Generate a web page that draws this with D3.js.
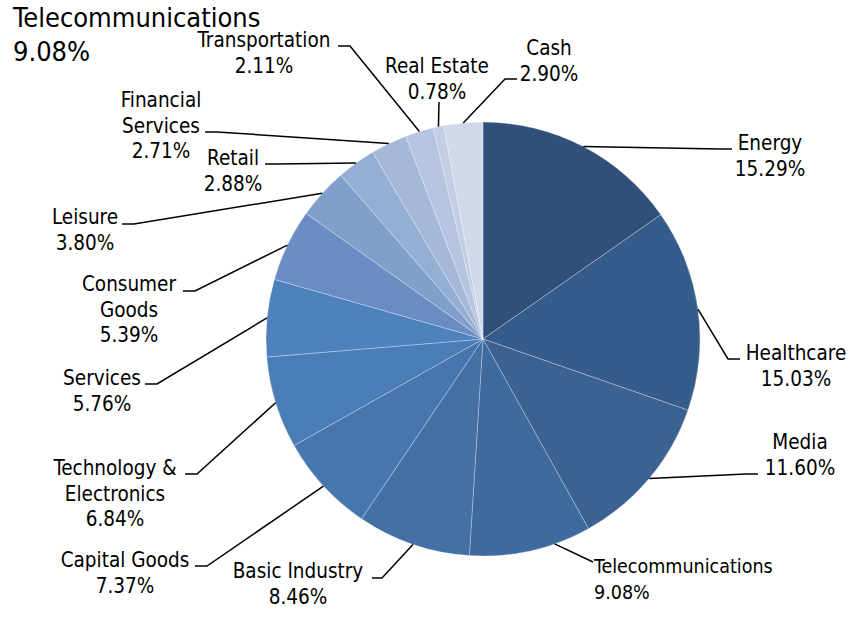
<!DOCTYPE html>
<html><head><meta charset="utf-8">
<script src="https://cdn.jsdelivr.net/npm/d3@7"></script>
<style>
html,body{margin:0;padding:0;background:#fff;}
text{font-family:"DejaVu Sans Condensed","DejaVu Sans",sans-serif;font-stretch:condensed;fill:#000;}
</style></head>
<body>
<svg id="chart" width="856" height="641"></svg>
<script>
// ---- data ----
const categories = ["Energy","Healthcare","Media","Telecommunications","Basic Industry","Capital Goods",
  "Technology & Electronics","Services","Consumer Goods","Leisure","Retail","Financial Services",
  "Transportation","Real Estate","Cash"];
const values = [15.29,15.03,11.60,9.08,8.46,7.37,6.84,5.76,5.39,3.80,2.88,2.71,2.11,0.78,2.90];
const colors = ["#30507a","#365c8b","#3b6291","#3f6a9e","#4470a6","#4776ae","#4a7cb6","#4f81bd",
  "#6a8dc3","#809fcb","#95aed3","#a5b8d8","#b5c4df","#c3cee5","#d1d9e9"];
const labelLines = [["Energy"],["Healthcare"],["Media"],["Telecommunications"],["Basic Industry"],["Capital Goods"],
  ["Technology &","Electronics"],["Services"],["Consumer","Goods"],["Leisure"],["Retail"],["Financial","Services"],
  ["Transportation"],["Real Estate"],["Cash"]];
const titleLines = ["Telecommunications","9.08%"];

// ---- layout (label placement, as in reference) ----
const layout = [
  {x:770, y:150, anchor:"middle", at:0.5, path:[[720,149],[732,149]]},
  {x:796, y:360, anchor:"middle", at:0.5, path:[[728,359],[740,359]]},
  {x:800, y:449, anchor:"middle", at:0.5, path:[[746,474],[758,474]]},
  {x:594, y:573, anchor:"start", at:0.3, path:[[593,562]], small:true},
  {x:298, y:578, anchor:"middle", at:0.5, path:[[382,578],[372,578]]},
  {x:125, y:567, anchor:"middle", at:0.5, path:[[207,566],[195,566]]},
  {x:115, y:475, anchor:"middle", at:0.5, path:[[197,474],[185,474]]},
  {x:102, y:385, anchor:"middle", at:0.5, path:[[157,384],[145,384]]},
  {x:129, y:291, anchor:"middle", at:0.5, path:[[195,291],[183,291]]},
  {x:85,  y:224, anchor:"middle", at:0.5, path:[[134,224],[122,224]]},
  {x:233, y:165, anchor:"middle", at:0.5, path:[[277,164],[265,164]]},
  {x:161, y:107, anchor:"middle", at:0.5, path:[[217,132],[205,132]]},
  {x:264, y:47,  anchor:"middle", at:0.5, path:[[350,46],[338,46]]},
  {x:437, y:73,  anchor:"middle", at:0.5, path:[[439,102]]},
  {x:549, y:55,  anchor:"middle", at:0.5, path:[[505,79],[517,79]]}
];

const data = categories.map((c,i)=>({name:c, value:values[i], color:colors[i], lines:labelLines[i], lay:layout[i]}));

const svg = d3.select("#chart");
const cx = 483, cy = 339, R = 217;
const lineH = 25.5;

const pie = d3.pie().value(d=>d.value).sort(null);
const arcs = pie(data);
const arc = d3.arc().innerRadius(0).outerRadius(R);

const g = svg.append("g").attr("transform",`translate(${cx},${cy})`);
g.selectAll("path.slice").data(arcs).join("path")
  .attr("class","slice")
  .attr("d",arc)
  .attr("fill",d=>d.data.color)
  .attr("stroke","rgba(255,255,255,0.35)")
  .attr("stroke-width",0.8);

// leader lines
arcs.forEach(a=>{
  const L = a.data.lay;
  const ang = a.startAngle + (a.endAngle-a.startAngle)*L.at;
  const p0 = [cx + R*Math.sin(ang), cy - R*Math.cos(ang)];
  const pts = [p0].concat(L.path);
  svg.append("path")
    .attr("d", d3.line()(pts))
    .attr("fill","none").attr("stroke","#000").attr("stroke-width",1.5);
});

// labels
arcs.forEach(a=>{
  const L = a.data.lay;
  const fs = L.small ? 19.5 : 20.5;
  const t = svg.append("text")
    .attr("x",L.x).attr("y",L.y)
    .attr("text-anchor",L.anchor)
    .style("font-size",fs+"px");
  const lines = a.data.lines.concat([d3.format(".2f")(a.data.value)+"%"]);
  lines.forEach((s,i)=>{
    t.append("tspan").attr("x",L.x).attr("dy", i===0?0:(L.small?26:lineH)).text(s);
  });
});

// title (top-left)
const tt = svg.append("text").attr("x",13).attr("y",27).style("font-size","27px");
titleLines.forEach((s,i)=>tt.append("tspan").attr("x",13).attr("dy",i===0?0:34).text(s));
</script>
</body></html>
